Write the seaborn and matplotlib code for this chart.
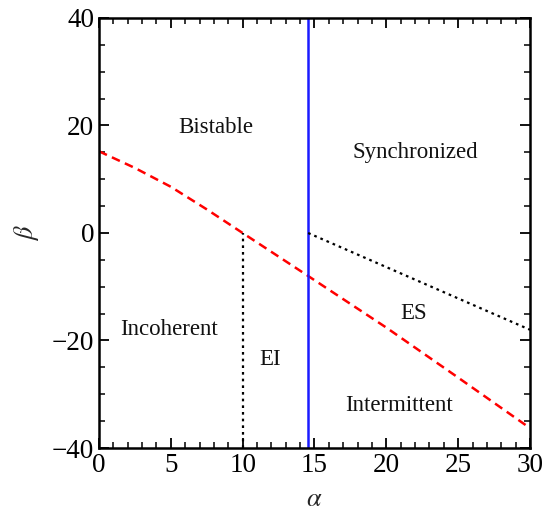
import matplotlib
matplotlib.use("Agg")
import matplotlib.pyplot as plt
import seaborn as sns
from matplotlib.ticker import MultipleLocator

# data
red_alpha = [0, 2.5, 5, 7.5, 10, 14.56, 20, 25, 30]
red_beta = [15.2, 12.1, 8.6, 4.4, 0.0, -8.0, -17.6, -26.9, -36.3]
blue_alpha = [14.56, 14.56]
blue_beta = [-40, 40]
ei_alpha = [10, 10]
ei_beta = [-40, 0]
es_alpha = [14.56, 30]
es_beta = [0, -18]
region_labels = ["Bistable", "Synchronized", "Incoherent", "EI", "ES", "Intermittent"]
region_alpha = [8.1, 22.0, 4.9, 11.9, 21.9, 20.9]
region_beta = [19.7, 14.9, -18.0, -23.6, -14.9, -32.0]

sns.set_theme(style="white")
plt.rcParams['font.family'] = ['Liberation Serif', 'DejaVu Serif']
plt.rcParams['mathtext.fontset'] = 'stix'

fig = plt.figure(figsize=(5.57, 5.14), dpi=100)
ax = fig.add_axes([0.1777, 0.1284, 0.9515 - 0.1777, 0.965 - 0.1284])

sns.lineplot(x=red_alpha, y=red_beta, ax=ax, color="#ff0000", lw=1.8, sort=False,
             estimator=None, linestyle=(0, (3.5, 2.2)))
sns.lineplot(x=blue_alpha, y=blue_beta, ax=ax, color="#1a1aff", lw=1.8, sort=False,
             estimator=None)
sns.lineplot(x=ei_alpha, y=ei_beta, ax=ax, color="black", lw=1.6, sort=False,
             estimator=None, linestyle=(0, (1.2, 1.8)))
sns.lineplot(x=es_alpha, y=es_beta, ax=ax, color="black", lw=1.6, sort=False,
             estimator=None, linestyle=(0, (1.2, 1.8)))

for lab, a, b in zip(region_labels, region_alpha, region_beta):
    ax.text(a, b, lab, ha="center", va="center", fontsize=16.5, color="#111111")

ax.set_xlim(0, 30)
ax.set_ylim(-40, 40)
ax.xaxis.set_major_locator(MultipleLocator(5))
ax.xaxis.set_minor_locator(MultipleLocator(1))
ax.yaxis.set_major_locator(MultipleLocator(20))
ax.yaxis.set_minor_locator(MultipleLocator(5))
ax.set_yticks([-40, -20, 0, 20, 40])
ax.set_yticklabels(["\u221240", "\u221220", "0", "20", "40"])
ax.tick_params(which="both", direction="in", top=True, right=True, bottom=True, left=True,
               labelsize=19.5, color="black", labelcolor="black")
ax.tick_params(axis="x", which="both", pad=3.5)
ax.tick_params(axis="y", which="both", pad=3.5)
ax.tick_params(which="major", length=7, width=1.3)
ax.tick_params(which="minor", length=4, width=1.1)
for s in ax.spines.values():
    s.set_linewidth(1.8)
    s.set_color("black")
    s.set_visible(True)

ax.set_xlabel(r"$\alpha$", fontsize=19, labelpad=8)
ax.set_ylabel(r"$\beta$", fontsize=19, labelpad=8)

fig.savefig("out.png", dpi=100)
